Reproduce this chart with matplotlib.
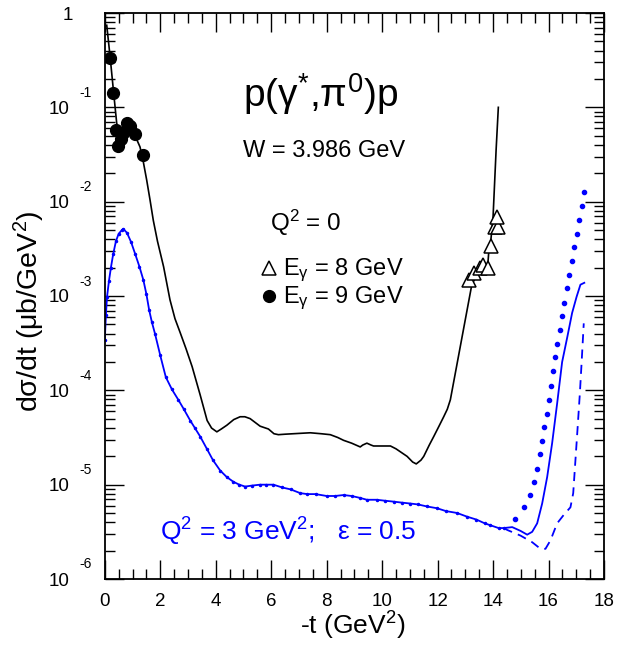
import numpy as np
import matplotlib
matplotlib.use("Agg")
import matplotlib.pyplot as plt
from matplotlib.ticker import MultipleLocator, LogLocator, NullFormatter
from matplotlib.transforms import blended_transform_factory, offset_copy

plt.rcParams['font.family'] = ['Liberation Sans', 'DejaVu Sans']
plt.rcParams['mathtext.default'] = 'regular'

# Q^2 = 0 model curve (black), -t and log10(dsigma/dt)
black_t = [0.07, 0.19, 0.31, 0.43, 0.55, 0.67, 0.79, 0.91, 1.03, 1.15, 1.27, 1.39,
           1.51, 1.63, 1.75, 1.90, 2.12, 2.35, 2.53, 2.72, 2.93, 3.15, 3.44, 3.69,
           3.85, 4.04, 4.20, 4.40, 4.65, 4.88, 5.05, 5.24, 5.42, 5.60, 5.90, 6.10,
           6.26, 6.50, 6.80, 7.10, 7.41, 7.80, 8.13, 8.40, 8.61, 8.90, 9.21, 9.30,
           9.45, 9.60, 9.69, 10.0, 10.30, 10.50, 10.65, 10.90, 11.10, 11.23, 11.40,
           11.50, 11.70, 11.86, 12.05, 12.22, 12.35, 12.46, 13.24, 13.54, 13.81,
           13.85, 13.91, 14.00, 14.11, 14.19]
black_log = [-0.13, -0.46, -0.82, -1.17, -1.27, -1.27, -1.24, -1.25, -1.28, -1.34, -1.42, -1.58,
             -1.77, -1.98, -2.20, -2.42, -2.69, -3.04, -3.24, -3.39, -3.56, -3.75, -4.05, -4.32,
             -4.40, -4.44, -4.41, -4.37, -4.31, -4.28, -4.28, -4.30, -4.34, -4.38, -4.41, -4.46,
             -4.47, -4.465, -4.46, -4.455, -4.45, -4.46, -4.47, -4.50, -4.53, -4.56, -4.60, -4.58,
             -4.56, -4.58, -4.59, -4.59, -4.59, -4.62, -4.65, -4.70, -4.76, -4.78, -4.74,
             -4.70, -4.58, -4.49, -4.38, -4.28, -4.20, -4.10, -2.87, -2.73, -2.67,
             -2.51, -2.44, -2.16, -1.45, -1.00]

# Q^2 = 3 GeV^2, eps = 0.5 (blue solid)
blue_t = [0.0, 0.04, 0.08, 0.15, 0.22, 0.30, 0.40, 0.50, 0.62, 0.67, 0.80, 0.95, 1.09,
          1.25, 1.39, 1.50, 1.60, 1.70, 1.81, 2.00, 2.20, 2.42, 2.65, 2.85, 3.08, 3.25,
          3.44, 3.68, 3.90, 4.16, 4.40, 4.64, 4.85, 5.06, 5.30, 5.60, 5.80, 6.08, 6.40,
          6.70, 7.05, 7.30, 7.60, 8.00, 8.30, 8.61, 8.90, 9.20, 9.45, 9.80, 10.10, 10.42,
          10.70, 11.02, 11.30, 11.60, 11.98, 12.30, 12.70, 13.07, 13.40, 13.70, 13.90,
          14.20, 14.39, 14.69, 14.99, 15.23, 15.41, 15.59, 15.77, 15.95, 16.13, 16.31,
          16.49, 16.68, 16.85, 17.01, 17.15, 17.29]
blue_log = [-3.47, -3.20, -3.01, -2.84, -2.70, -2.56, -2.42, -2.34, -2.30, -2.29, -2.33, -2.43, -2.55,
            -2.69, -2.83, -2.98, -3.15, -3.28, -3.40, -3.63, -3.86, -3.99, -4.10, -4.20, -4.32, -4.40,
            -4.49, -4.62, -4.74, -4.85, -4.92, -4.97, -5.00, -5.02, -5.01, -5.00, -5.00, -5.00, -5.03,
            -5.05, -5.09, -5.10, -5.10, -5.12, -5.12, -5.11, -5.12, -5.14, -5.16, -5.16, -5.17, -5.18,
            -5.19, -5.20, -5.21, -5.23, -5.25, -5.28, -5.30, -5.34, -5.37, -5.41, -5.43,
            -5.46, -5.46, -5.45, -5.49, -5.53, -5.50, -5.41, -5.20, -4.92, -4.56, -4.14,
            -3.70, -3.43, -3.18, -3.01, -2.88, -2.86]

# blue dashed branch
dash_t = [14.39, 14.51, 14.99, 15.41, 15.71, 15.89, 16.07, 16.31, 16.55, 16.79, 16.89,
          16.97, 17.05, 17.13, 17.19, 17.27]
dash_log = [-5.46, -5.48, -5.54, -5.61, -5.68, -5.68, -5.59, -5.41, -5.32, -5.24, -5.09,
            -4.74, -4.39, -4.03, -3.72, -3.29]

# blue dotted branch
dot_t = [14.78, 15.10, 15.34, 15.48, 15.59, 15.68, 15.77, 15.84, 15.93, 16.01, 16.08,
         16.16, 16.24, 16.32, 16.41, 16.48, 16.57, 16.65, 16.73, 16.83, 16.91, 17.01,
         17.09, 17.19, 17.29]
dot_log = [-5.36, -5.24, -5.11, -4.97, -4.83, -4.68, -4.54, -4.39, -4.25, -4.10, -3.95,
           -3.80, -3.65, -3.51, -3.36, -3.21, -3.07, -2.92, -2.78, -2.63, -2.48, -2.34,
           -2.19, -2.05, -1.90]

# data: E_gamma = 9 GeV (circles)
e9_t = [0.19, 0.30, 0.39, 0.48, 0.58, 0.66, 0.80, 0.90, 1.09, 1.38]
e9_log = [-0.48, -0.85, -1.24, -1.41, -1.34, -1.27, -1.17, -1.20, -1.28, -1.50]

# data: E_gamma = 8 GeV (triangles)
e8_t = [13.15, 13.30, 13.52, 13.64, 13.81, 13.93, 14.06, 14.17, 14.15]
e8_log = [-2.83, -2.76, -2.70, -2.67, -2.70, -2.47, -2.27, -2.27, -2.16]
e8_relerr = 0.12

blue = '#0000ff'

fig = plt.figure(figsize=(6.18, 6.49), dpi=100)
ax = fig.add_axes([104.8 / 618, 70 / 649, 499.2 / 618, 566 / 649])

ax.plot(black_t, 10 ** np.array(black_log), color='black', lw=1.2)

bt = np.array(blue_t)
by = 10 ** np.array(blue_log)
ax.plot(bt, by, color=blue, lw=1.3)
ax.plot(bt[bt < 14.5], by[bt < 14.5], ls='none', marker='.', ms=3, color=blue)
ax.plot(dash_t, 10 ** np.array(dash_log), color=blue, lw=1.3, ls=(0, (5, 3.5)))
ax.plot(dot_t, 10 ** np.array(dot_log), ls='none', marker='o', ms=3, color=blue)

e8y = 10 ** np.array(e8_log)
ax.errorbar(e8_t, e8y, yerr=e8y * e8_relerr, fmt='none', ecolor='red', elinewidth=1)
ax.plot(e8_t, e8y, ls='none', marker='^', ms=10, mfc='white', mec='black', mew=1.1)
ax.plot(e9_t, 10 ** np.array(e9_log), ls='none', marker='o', ms=8.5, color='black')

ax.set_yscale('log')
ax.set_xlim(0, 18)
ax.set_ylim(1e-6, 1)
ax.xaxis.set_major_locator(MultipleLocator(2))
ax.xaxis.set_minor_locator(MultipleLocator(0.5))
ax.yaxis.set_major_locator(LogLocator(base=10, numticks=20))
ax.yaxis.set_minor_locator(LogLocator(base=10, subs=np.arange(2, 10), numticks=20))
ax.yaxis.set_major_formatter(NullFormatter())
ax.yaxis.set_minor_formatter(NullFormatter())
ax.tick_params(which='both', direction='in', top=True, right=True, width=1)
ax.tick_params(which='major', length=13.7, labelsize=13.5, pad=10)
ax.tick_params(which='minor', length=7.2)
for s in ax.spines.values():
    s.set_linewidth(1.3)

# ROOT-style y labels: "10" with a separate raised exponent
trans = blended_transform_factory(fig.transFigure, ax.transData)
trans_up = offset_copy(trans, fig=fig, x=0, y=16, units='dots')
for k in range(-6, 0):
    ax.text(69 / 618, 10.0 ** k, '10', transform=trans, ha='right',
            va='center_baseline', fontsize=13.5)
    ax.text(79 / 618, 10.0 ** k, str(k), transform=trans_up, ha='left',
            va='center_baseline', fontsize=10)
ax.text(73 / 618, 1.0, '1', transform=trans, ha='right', va='center_baseline',
        fontsize=13.5)

fig.text(353 / 618, 1 - 635 / 649, '-t (GeV$^{2}$)', ha='center', va='baseline',
         fontsize=19)
fig.text(29 / 618, 1 - 311 / 649, 'dσ/dt (μb/GeV$^{2}$)', rotation=90,
         ha='center', va='center', fontsize=20.5)

fig.text(243 / 618, 1 - 107 / 649, 'p(γ$^{*}$,π$^{0}$)p', ha='left', va='baseline',
         fontsize=28)
fig.text(243 / 618, 1 - 157 / 649, 'W = 3.986 GeV', ha='left', va='baseline',
         fontsize=17)
fig.text(270 / 618, 1 - 231 / 649, 'Q$^{2}$ = 0', ha='left', va='baseline',
         fontsize=17.5)
fig.text(283 / 618, 1 - 275 / 649, 'E$_{γ}$ = 8 GeV', ha='left', va='baseline',
         fontsize=17)
fig.text(283 / 618, 1 - 303 / 649, 'E$_{γ}$ = 9 GeV', ha='left', va='baseline',
         fontsize=17)
fig.lines.append(plt.Line2D([269 / 618], [1 - 268 / 649], transform=fig.transFigure,
                            marker='^', ms=10, mfc='white', mec='black', mew=1.1))
fig.lines.append(plt.Line2D([269 / 618], [1 - 296 / 649], transform=fig.transFigure,
                            marker='o', ms=8.5, color='black'))

fig.text(160 / 618, 1 - 541 / 649, 'Q$^{2}$ = 3 GeV$^{2}$;   ε = 0.5', ha='left',
         va='baseline', fontsize=19, color=blue)

fig.savefig('out.png', dpi=100)
